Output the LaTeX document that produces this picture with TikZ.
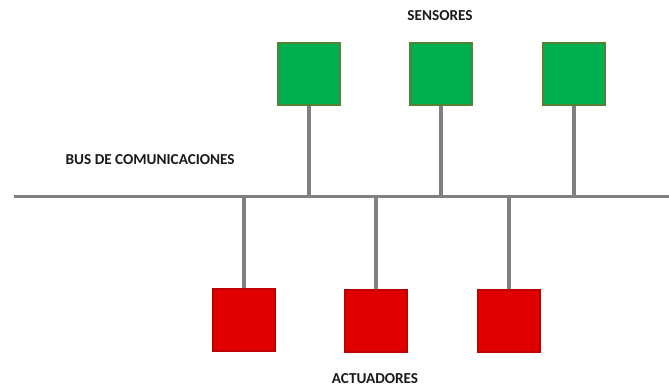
\documentclass[tikz,border=0pt]{standalone}
\usepackage{fontspec}
\setmainfont{Carlito}
\usetikzlibrary{positioning}

\begin{document}
\begin{tikzpicture}[
    x=0.75pt,
    y=-0.75pt,
    sensor/.style={rectangle, inner sep=0pt, minimum size=46.5pt, fill={rgb,255:red,0;green,176;blue,80}, draw={rgb,255:red,84;green,130;blue,53}, line width=1.5pt},
    actuador/.style={rectangle, inner sep=0pt, minimum size=46.5pt, fill={rgb,255:red,224;green,0;blue,0}, draw={rgb,255:red,192;green,0;blue,0}, line width=1.5pt},
    label/.style={font=\fontsize{11.4}{13}\selectfont\bfseries, text=black!90},
    bus/.style={draw=black!50, line width=2.6pt}
]
   \useasboundingbox (0,0) rectangle (669,388);

   % Bus
   \coordinate (busL) at (14,196.5);
   \coordinate (busR) at (669,196.5);

   % Sensors
   \node[sensor] (s1) at (309,74) {};
   \node[sensor] (s2) at (441,74) {};
   \node[sensor] (s3) at (574,74) {};

   % Actuators
   \node[actuador] (a1) at (244,320) {};
   \node[actuador] (a2) at (376,321) {};
   \node[actuador] (a3) at (509,321) {};

   % Labels
   \node[label] (lsens) at (440,16) {SENSORES};
   \node[label, anchor=west] (lbus) at (61,160) {BUS DE COMUNICACIONES};
   \node[label] (lact) at (375,379) {ACTUADORES};

   % Connections
   \draw[bus] (busL) -- (busR);
   \foreach \n in {s1,s2,s3} {
      \draw[bus] (\n.south) -- (\n.south |- busL);
   }
   \foreach \n in {a1,a2,a3} {
      \draw[bus] (\n.north) -- (\n.north |- busL);
   }
\end{tikzpicture}
\end{document}
